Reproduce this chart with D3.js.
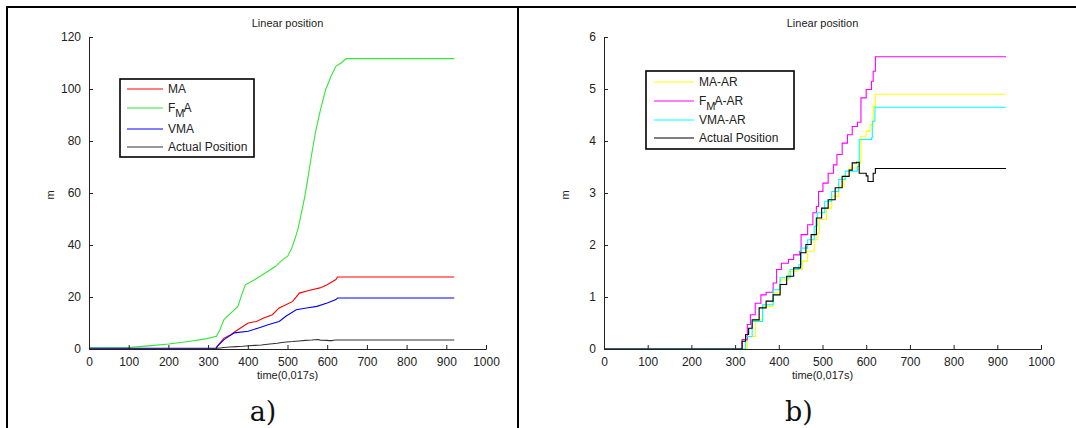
<!DOCTYPE html>
<html>
<head>
<meta charset="utf-8">
<script src="https://cdn.jsdelivr.net/npm/d3@7"></script>
<style>
html,body{margin:0;padding:0;background:#fff;}
svg{display:block;}
</style>
</head>
<body>
<svg id="chart" width="1076" height="428"></svg>
<script>
// ---- Data ----
const xTicks = [0,100,200,300,400,500,600,700,800,900,1000];
const yTicksA = [0,20,40,60,80,100,120];
const yTicksB = [0,1,2,3,4,5,6];

// Panel a) series: [time, value]
const maA = [[0,0],[320,0],[323,1],[340,4.2],[357,5.5],[375,7.4],[401,10],[422,10.6],[440,11.9],[462,13.2],[479,15.8],[496,17],[513,18.3],[530,21.5],[556,22.6],[582,23.5],[600,24.7],[622,26.7],[626,27.7],[920,27.7]];
const fmaA = [[0,0.5],[97,0.6],[150,1.2],[201,1.9],[250,2.9],[297,4.0],[321,4.9],[330,7.5],[340,11.3],[357,13.8],[375,16.4],[385,21],[394,24.7],[418,26.7],[444,29.2],[470,31.8],[488,34.4],[500,35.6],[510,38.5],[518,42],[527,46.5],[535,52.3],[544,59],[552,66.4],[561,75],[570,83],[583,92],[596,99.7],[610,105],[622,108.7],[635,110],[648,111.7],[920,111.7]];
const vmaA = [[0,0.3],[320,0.3],[323,1],[340,3.6],[366,6.2],[401,6.8],[427,8.1],[453,9.4],[479,10.6],[496,12.6],[522,15.1],[548,15.8],[574,16.4],[600,17.7],[622,19],[626,19.6],[920,19.6]];

// Panel b) series (stepped)
const maAR = [[0,0],[314,0],[328,0.24],[347,0.56],[363,0.82],[387,1.08],[403,1.33],[422,1.49],[442,1.53],[454,1.69],[466,1.88],[481,2.1],[489,2.23],[493,2.49],[509,2.71],[521,2.94],[537,3.13],[549,3.32],[561,3.48],[580,3.58],[588,4.09],[600,4.19],[609,4.31],[616,4.67],[621,4.9],[920,4.9]];
const fmaAR = [[0,0],[308,0],[316,0.18],[328,0.47],[335,0.66],[346,0.88],[359,1.04],[371,1.09],[387,1.27],[395,1.53],[406,1.65],[422,1.72],[434,1.81],[448,1.88],[451,2.2],[466,2.39],[478,2.62],[486,2.74],[491,3.03],[501,3.19],[513,3.38],[525,3.54],[533,3.74],[545,3.96],[557,4.12],[568,4.28],[580,4.36],[588,4.83],[600,4.99],[612,5.15],[616,5.34],[621,5.62],[920,5.62]];
const vmaAR = [[0,0],[312,0],[324,0.24],[339,0.53],[363,0.85],[387,1.14],[403,1.37],[426,1.53],[446,1.62],[451,1.94],[466,2.1],[481,2.36],[488,2.62],[505,2.84],[521,3.03],[537,3.26],[552,3.42],[580,3.51],[584,4.03],[612,4.06],[614,4.38],[620,4.65],[920,4.65]];
const actualPosition = [[0,0],[309,0],[316,0.15],[324,0.28],[331,0.4],[339,0.56],[355,0.79],[371,0.92],[387,1.04],[403,1.24],[418,1.4],[434,1.56],[450,1.85],[462,2.01],[474,2.2],[486,2.52],[498,2.71],[513,2.87],[529,3.1],[545,3.32],[561,3.44],[568,3.58],[578,3.59],[584,3.38],[600,3.33],[604,3.22],[612,3.22],[616,3.38],[621,3.47],[920,3.47]];

const seriesA = [
  {name:["MA"], data:maA, color:"#ff0000"},
  {name:["F","M","A"], data:fmaA, color:"#33e633"},
  {name:["VMA"], data:vmaA, color:"#0000ff"},
  {name:["Actual Position"], data:actualPosition, color:"#333333"}
];
const seriesB = [
  {name:["MA-AR"], data:maAR, color:"#ffff00"},
  {name:["F","M","A-AR"], data:fmaAR, color:"#ff00ff"},
  {name:["VMA-AR"], data:vmaAR, color:"#00ffff"},
  {name:["Actual Position"], data:actualPosition, color:"#000000"}
];

const SANS = "'Liberation Sans', Arial, Helvetica, sans-serif";
const SERIF = "'DejaVu Serif', 'Liberation Serif', serif";
const svg = d3.select("#chart");

// Frame (table borders)
const frame = svg.append("g").attr("stroke","#000").attr("stroke-width",2);
frame.append("line").attr("x1",7).attr("x2",1076).attr("y1",7).attr("y2",7);
frame.append("line").attr("x1",7).attr("x2",7).attr("y1",6).attr("y2",428);
frame.append("line").attr("x1",518).attr("x2",518).attr("y1",6).attr("y2",428);

function panel(cfg){
  const x = d3.scaleLinear().domain([0,1000]).range([cfg.x0,cfg.x1]);
  const y = d3.scaleLinear().domain([0,cfg.ymax]).range([349,37]);
  const g = svg.append("g");

  // lines
  const line = d3.line().x(d=>x(d[0])).y(d=>y(d[1])).curve(cfg.curve);
  cfg.series.forEach(s=>{
    g.append("path").attr("d",line(s.data)).attr("fill","none")
      .attr("stroke",s.color).attr("stroke-width",1.1);
  });

  // axes
  const xa = g.append("g").attr("transform",`translate(0,${y(0)})`)
    .call(d3.axisBottom(x).tickValues(xTicks).tickSize(-4).tickPadding(8).tickFormat(d3.format("d")));
  const ya = g.append("g").attr("transform",`translate(${x(0)},0)`)
    .call(d3.axisLeft(y).tickValues(cfg.yTicks).tickSize(-4).tickPadding(8).tickFormat(d3.format("d")));
  [xa,ya].forEach(a=>{
    a.select(".domain").attr("stroke","#222").attr("stroke-width",1);
    a.selectAll(".tick line").attr("stroke","#222");
    a.selectAll("text").style("font-size","12px").style("fill","#222")
      .style("font-family",SANS);
  });

  const cx = (cfg.x0+cfg.x1)/2;
  const txt = (sel,size,fam)=>sel.style("font-size",size+"px").style("font-family",fam||SANS).style("fill","#222");
  txt(g.append("text").attr("x",cx).attr("y",27).attr("text-anchor","middle"),11).text("Linear position");
  txt(g.append("text").attr("x",cx).attr("y",379).attr("text-anchor","middle"),11).text("time(0,017s)");
  txt(g.append("text").attr("transform",`translate(${cfg.x0-35},195) rotate(-90)`)
    .attr("text-anchor","middle"),11).text("m");
  txt(g.append("text").attr("x",cfg.labelX).attr("y",421).attr("text-anchor","middle"),27,SERIF)
    .style("fill","#111").text(cfg.label);

  // legend
  const L = cfg.legend;
  g.append("rect").attr("x",L.x).attr("y",L.y).attr("width",L.w).attr("height",L.h)
    .attr("fill","#fff").attr("stroke","#000").attr("stroke-width",1.6);
  cfg.series.forEach((s,i)=>{
    const yy = L.rows[i];
    g.append("line").attr("x1",L.lx1).attr("x2",L.lx2).attr("y1",yy).attr("y2",yy)
      .attr("stroke",s.color).attr("stroke-width",1.2);
    const t = txt(g.append("text").attr("x",L.tx).attr("y",yy+4),12);
    if(s.name.length===1){ t.text(s.name[0]); }
    else {
      t.append("tspan").text(s.name[0]);
      t.append("tspan").attr("dy",5).style("font-size","11px").text(s.name[1]);
      t.append("tspan").attr("dy",-5).attr("dx",-1).text(s.name[2]);
    }
  });
}

panel({x0:89,x1:486,ymax:120,yTicks:yTicksA,series:seriesA,curve:d3.curveLinear,label:"a)",labelX:263,
  legend:{x:120,y:79,w:134,h:78,lx1:127,lx2:163,tx:168,rows:[89,108,129,147]}});
panel({x0:604,x1:1041,ymax:6,yTicks:yTicksB,series:seriesB,curve:d3.curveStepAfter,label:"b)",labelX:799,
  legend:{x:646,y:71,w:148,h:78,lx1:654,lx2:694,tx:699,rows:[82,101,120,138]}});
</script>
</body>
</html>
